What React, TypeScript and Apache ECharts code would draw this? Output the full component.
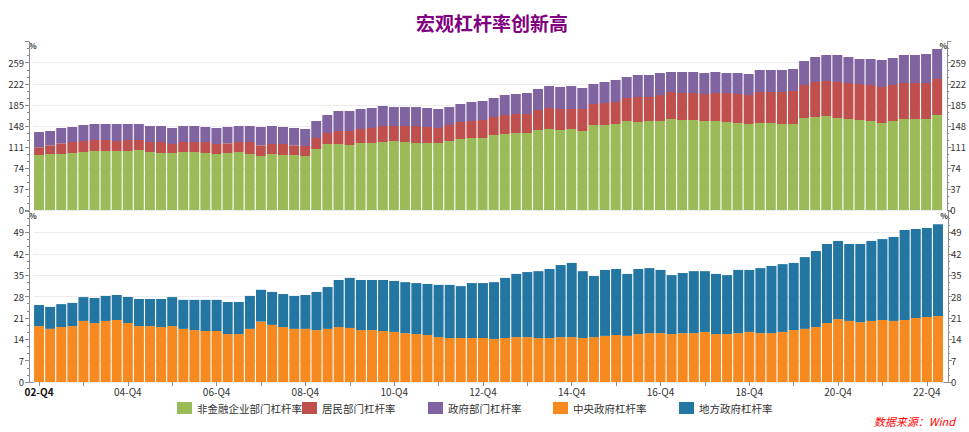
import React, { useEffect, useRef } from "react";
import * as echarts from "echarts";

const quarters = [
  "02-Q4",
  "03-Q1", "03-Q2", "03-Q3", "03-Q4",
  "04-Q1", "04-Q2", "04-Q3", "04-Q4",
  "05-Q1", "05-Q2", "05-Q3", "05-Q4",
  "06-Q1", "06-Q2", "06-Q3", "06-Q4",
  "07-Q1", "07-Q2", "07-Q3", "07-Q4",
  "08-Q1", "08-Q2", "08-Q3", "08-Q4",
  "09-Q1", "09-Q2", "09-Q3", "09-Q4",
  "10-Q1", "10-Q2", "10-Q3", "10-Q4",
  "11-Q1", "11-Q2", "11-Q3", "11-Q4",
  "12-Q1", "12-Q2", "12-Q3", "12-Q4",
  "13-Q1", "13-Q2", "13-Q3", "13-Q4",
  "14-Q1", "14-Q2", "14-Q3", "14-Q4",
  "15-Q1", "15-Q2", "15-Q3", "15-Q4",
  "16-Q1", "16-Q2", "16-Q3", "16-Q4",
  "17-Q1", "17-Q2", "17-Q3", "17-Q4",
  "18-Q1", "18-Q2", "18-Q3", "18-Q4",
  "19-Q1", "19-Q2", "19-Q3", "19-Q4",
  "20-Q1", "20-Q2", "20-Q3", "20-Q4",
  "21-Q1", "21-Q2", "21-Q3", "21-Q4",
  "22-Q1", "22-Q2", "22-Q3", "22-Q4",
  "23-Q1",
];

// 非金融企业部门杠杆率
const corporate = [
  96.7, 98.5, 98.5, 100.2, 102.0, 103.8, 103.8, 103.8, 103.8, 105.5,
  102.0, 100.2, 100.2, 102.0, 102.0, 100.2, 98.5, 100.2, 102.0, 98.5,
  95.0, 98.5, 96.7, 96.7, 95.0, 107.3, 116.1, 116.1, 114.3, 117.8,
  117.8, 119.6, 121.4, 119.6, 117.8, 117.8, 117.8, 121.4, 124.9, 126.6,
  126.6, 131.9, 133.7, 135.4, 135.4, 140.7, 142.5, 140.7, 142.5, 138.9,
  149.5, 149.5, 151.3, 156.5, 154.8, 156.5, 156.5, 160.0, 158.3, 158.3,
  156.5, 156.5, 154.8, 153.0, 151.3, 153.0, 153.0, 151.3, 151.3, 161.8,
  163.6, 165.3, 161.8, 160.0, 158.3, 156.5, 153.0, 156.5, 160.0, 160.0,
  160.0, 167.1,
];

// 居民部门杠杆率
const household = [
  13.5, 15.2, 18.7, 19.4, 19.4, 19.3, 19.3, 17.6, 19.3, 17.6,
  17.6, 19.4, 15.9, 17.6, 17.6, 19.4, 17.6, 17.0, 17.6, 21.1,
  18.7, 17.6, 19.4, 17.0, 17.6, 19.3, 19.3, 22.8, 24.6, 24.7,
  26.4, 28.1, 26.3, 28.1, 29.9, 28.2, 26.4, 28.1, 29.9, 29.9,
  31.7, 31.7, 33.4, 33.4, 33.4, 35.2, 36.9, 36.9, 35.1, 38.7,
  36.9, 38.7, 38.6, 40.5, 43.9, 42.2, 45.8, 47.5, 47.5, 47.5,
  47.5, 49.3, 51.0, 51.0, 51.0, 54.5, 54.5, 56.2, 58.0, 58.0,
  61.5, 61.6, 63.3, 63.4, 63.3, 63.3, 63.3, 63.3, 63.4, 63.4,
  63.4, 63.3,
];

// 政府部门杠杆率
const government = [
  27.0, 25.2, 27.0, 26.4, 28.1, 28.2, 28.2, 29.9, 28.2, 28.2,
  28.1, 28.1, 28.1, 28.1, 28.1, 26.4, 28.1, 28.8, 28.1, 28.1,
  32.3, 31.6, 29.9, 30.5, 29.9, 29.9, 31.7, 35.2, 35.2, 35.1,
  35.2, 35.2, 33.4, 33.4, 33.4, 33.4, 33.4, 31.6, 31.6, 33.4,
  33.4, 33.4, 35.2, 35.2, 37.0, 36.9, 38.7, 38.7, 40.5, 37.0,
  35.2, 36.9, 38.7, 36.9, 38.7, 38.7, 38.6, 35.2, 36.9, 36.9,
  36.9, 36.9, 35.1, 36.9, 36.9, 38.7, 38.7, 38.7, 38.7, 42.2,
  44.0, 45.7, 47.5, 45.7, 44.0, 45.8, 47.5, 47.5, 49.2, 49.2,
  51.0, 52.8,
];

// 中央政府杠杆率
const central = [
  18.3, 17.4, 18.0, 18.3, 20.0, 19.3, 20.0, 20.3, 19.3, 18.3,
  18.3, 18.0, 18.3, 17.4, 17.0, 16.7, 16.7, 15.7, 15.7, 17.4,
  19.8, 18.7, 18.0, 17.4, 17.4, 17.0, 17.4, 18.0, 17.7, 17.0,
  17.0, 16.7, 16.4, 16.0, 15.7, 15.4, 14.7, 14.4, 14.4, 14.4,
  14.4, 14.1, 14.4, 14.7, 14.7, 14.4, 14.4, 14.7, 14.7, 14.4,
  14.7, 15.1, 15.4, 15.1, 15.7, 16.0, 16.0, 15.7, 16.0, 16.0,
  16.4, 15.7, 15.7, 16.0, 16.4, 16.0, 16.0, 16.4, 17.0, 17.4,
  18.0, 19.3, 20.6, 20.0, 19.6, 20.0, 20.3, 20.0, 20.3, 21.0,
  21.3, 21.6,
];

// 地方政府杠杆率
const local = [
  6.9, 7.2, 7.5, 7.6, 7.8, 8.2, 8.2, 8.2, 8.5, 8.9,
  8.9, 9.2, 9.5, 9.5, 9.9, 10.2, 10.2, 10.5, 10.5, 10.8,
  10.4, 10.8, 10.8, 10.8, 11.1, 12.5, 13.7, 15.4, 16.4, 16.4,
  16.4, 16.7, 16.7, 16.7, 16.7, 16.7, 17.1, 17.4, 17.0, 18.0,
  18.0, 18.6, 19.7, 20.7, 21.3, 21.9, 22.6, 23.6, 24.3, 21.9,
  20.0, 21.6, 21.6, 20.3, 21.3, 21.3, 20.7, 19.3, 19.7, 20.3,
  19.9, 19.7, 19.3, 20.7, 20.3, 21.3, 22.0, 22.2, 22.0, 23.5,
  24.9, 25.9, 25.6, 25.2, 25.6, 26.2, 26.5, 27.5, 29.5, 29.1,
  29.1, 30.1,
];

const seriesNames = [
  "非金融企业部门杠杆率",
  "居民部门杠杆率",
  "政府部门杠杆率",
  "中央政府杠杆率",
  "地方政府杠杆率",
];
const seriesColors = ["#9BBB59", "#C0504D", "#8064A2", "#F6891F", "#2375A2"];
const legendLefts = [177, 302, 428, 553, 679];

const FONT = "'Noto Sans CJK SC', 'Noto Sans', sans-serif";
const AXIS_GRAY = "#8c8c8c";

function makeYAxis(gridIndex: number, position: "left" | "right", max: number, interval: number) {
  return {
    type: "value",
    gridIndex,
    position,
    min: 0,
    max,
    interval,
    offset: 4.5,
    name: "%",
    nameLocation: "end",
    nameGap: 0,
    nameTextStyle: {
      fontSize: 8,
      fontWeight: "bold",
      color: "#333",
      align: position === "left" ? "left" : "right",
      verticalAlign: "top",
      fontFamily: FONT,
    },
    axisLine: { show: true, lineStyle: { color: AXIS_GRAY } },
    axisTick: { show: true, length: 4, lineStyle: { color: AXIS_GRAY } },
    minorTick: { show: true, splitNumber: 3, length: 2, lineStyle: { color: AXIS_GRAY } },
    axisLabel: {
      color: "#333",
      fontSize: 9.5,
      margin: position === "left" ? 5 : 3,
      showMaxLabel: false,
      fontFamily: FONT,
    },
    splitLine: { show: position === "left", showMaxLine: false, lineStyle: { color: "#ececec" } },
  };
}

export default function App() {
  const ref = useRef<HTMLDivElement>(null);

  useEffect(() => {
    document.body.style.margin = "0";
    const chart = echarts.init(ref.current!, null, { renderer: "svg" });

    const option = {
      animation: false,
      textStyle: { fontFamily: FONT },
      title: [
        {
          text: "宏观杠杆率创新高",
          left: 411,
          top: 8,
          textStyle: { color: "#800080", fontSize: 19, fontWeight: "bold", fontFamily: FONT },
        },
        {
          text: "数据来源：Wind",
          right: 14,
          top: 415,
          padding: 0,
          textStyle: { color: "#FF0000", fontSize: 11, fontStyle: "italic", fontWeight: "normal", fontFamily: FONT },
        },
      ],
      legend: seriesNames.map((n, i) => ({
        data: [n],
        left: legendLefts[i],
        top: 402,
        padding: 0,
        itemWidth: 15,
        itemHeight: 12,
        itemGap: 0,
        icon: "rect",
        textStyle: { fontSize: 10.5, color: "#333", fontFamily: FONT },
      })),
      grid: [
        { left: 33.5, right: 25.5, top: 41.7, height: 168.3 },
        { left: 33.5, right: 25.5, top: 211, height: 171 },
      ],
      xAxis: [
        { type: "category", gridIndex: 0, data: quarters, show: false },
        {
          type: "category",
          gridIndex: 1,
          data: quarters,
          axisLine: { show: false },
          axisTick: { show: true, alignWithLabel: true, interval: 3, length: 4, lineStyle: { color: AXIS_GRAY } },
          axisLabel: {
            interval: 7,
            color: "#333",
            fontSize: 10,
            margin: 4,
            fontFamily: FONT,
            formatter: (v: string, i: number) => (i === 0 ? `{b|${v}}` : v),
            rich: { b: { fontWeight: "bold", fontSize: 10, color: "#111", fontFamily: FONT } },
          },
        },
      ],
      yAxis: [
        makeYAxis(0, "left", 296, 37),
        makeYAxis(0, "right", 296, 37),
        makeYAxis(1, "left", 56, 7),
        makeYAxis(1, "right", 56, 7),
      ],
      graphic: [
        {
          type: "line",
          shape: { x1: 29, y1: 382.5, x2: 949, y2: 382.5 },
          style: { stroke: AXIS_GRAY, lineWidth: 1 },
          silent: true,
        },
      ],
      series: [
        { name: seriesNames[0], data: corporate, xAxisIndex: 0, yAxisIndex: 0, stack: "top" },
        { name: seriesNames[1], data: household, xAxisIndex: 0, yAxisIndex: 0, stack: "top" },
        { name: seriesNames[2], data: government, xAxisIndex: 0, yAxisIndex: 0, stack: "top" },
        { name: seriesNames[3], data: central, xAxisIndex: 1, yAxisIndex: 2, stack: "bottom" },
        { name: seriesNames[4], data: local, xAxisIndex: 1, yAxisIndex: 2, stack: "bottom" },
      ].map((s, i) => ({
        ...s,
        type: "bar",
        barCategoryGap: "10%",
        itemStyle: { color: seriesColors[i] },
      })),
    };

    chart.setOption(option as any);
    return () => chart.dispose();
  }, []);

  return <div ref={ref} style={{ width: 969, height: 432 }} />;
}
